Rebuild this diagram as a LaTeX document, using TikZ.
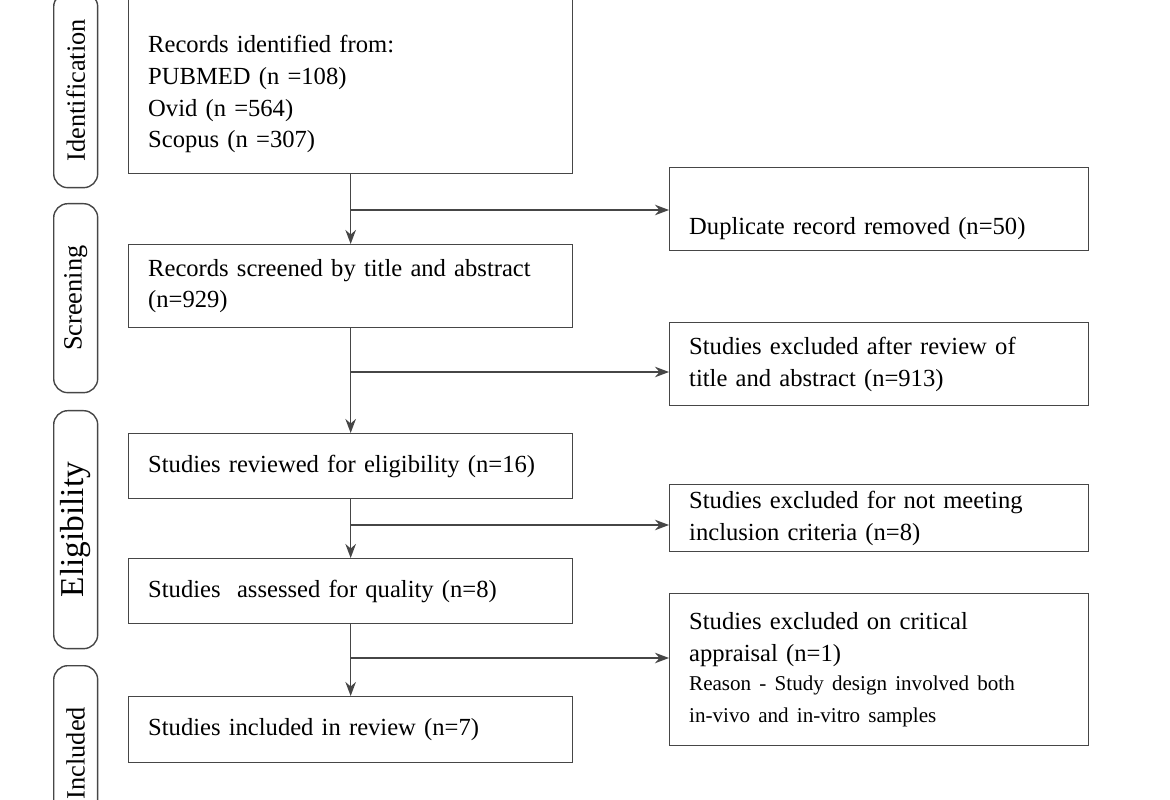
\documentclass[tikz,border=0pt]{standalone}
\usepackage{fontspec}
\setmainfont{Liberation Serif}
\usetikzlibrary{arrows.meta, positioning}
\definecolor{linegray}{RGB}{70,70,70}

\begin{document}
\begin{tikzpicture}[
        x=0.02cm, y=-0.02cm,
        mainbox/.style={draw=linegray, thick, minimum width=8.88cm, text width=8.1cm, align=left, anchor=north west, font=\fontsize{14}{18}\selectfont},
        sidebox/.style={draw=linegray, thick, minimum width=8.38cm, text width=7.6cm, align=left, anchor=north west, font=\fontsize{14}{18}\selectfont},
        phase/.style={draw=linegray, thick, rounded corners=8pt, minimum width=0.88cm, anchor=north west},
        phasetext/.style={rotate=90, font=\fontsize{15}{18}\selectfont},
        arrow/.style={-{Stealth[length=8pt]}, thick, linegray}
    ]
        \useasboundingbox (0,0) rectangle (1170,800);
        \clip (0,0) rectangle (1170,800);
        % phases
        \node[phase, minimum height=3.9cm] (ident) at (53,-8) {};
        \node[phasetext] at (ident.center) {Identification};
        \node[phase, minimum height=3.78cm] (screen) at (53,203) {};
        \node[phasetext] at (screen.center) {Screening};
        \node[phase, minimum height=4.76cm] (elig) at (53,410) {};
        \node[phasetext, font=\fontsize{19}{22}\selectfont] at (elig.center) {Eligibility};
        \node[phase, minimum height=3.2cm] (incl) at (53,665) {};
        \node[phasetext] at ([yshift=-0.15cm]incl.center) {Included};
        % main column
        \node[mainbox, minimum height=3.6cm] (records) at (128,-7) {\rule{0pt}{22pt}Records identified from:\\PUBMED (n =108)\\Ovid (n =564)\\Scopus (n =307)};
        \node[mainbox, minimum height=1.66cm] (screened) at (128,244) {Records screened by title and abstract\\(n=929)};
        \node[mainbox, minimum height=1.3cm] (reviewed) at (128,433) {Studies reviewed for eligibility (n=16)};
        \node[mainbox, minimum height=1.3cm] (assessed) at (128,558) {Studies\ \ assessed for quality (n=8)};
        \node[mainbox, minimum height=1.32cm] (included) at (128,696) {Studies included in review (n=7)};
        % side column
        \node[sidebox, minimum height=1.66cm] (dupl) at (669,167) {\rule{0pt}{32pt}Duplicate record removed (n=50)};
        \node[sidebox, minimum height=1.66cm] (excl1) at (669,322) {Studies excluded after review of\\title and abstract (n=913)};
        \node[sidebox, minimum height=1.34cm] (excl2) at (669,484) {Studies excluded for not meeting\\inclusion criteria (n=8)};
        \node[sidebox, minimum height=3.04cm] (excl3) at (669,593) {Studies excluded on critical\\appraisal (n=1)\\{\fontsize{12}{17}\selectfont Reason - Study design involved both\\in-vivo and in-vitro samples}};
        % arrows
        \draw[arrow] (records) -- (screened);
        \draw[arrow] (screened) -- (reviewed);
        \draw[arrow] (reviewed) -- (assessed);
        \draw[arrow] (assessed) -- (included);
        \coordinate (j1) at (350,210);
        \coordinate (j2) at (350,372);
        \coordinate (j3) at (350,525);
        \coordinate (j4) at (350,658);
        \draw[arrow] (j1) -- (j1 -| dupl.west);
        \draw[arrow] (j2) -- (j2 -| excl1.west);
        \draw[arrow] (j3) -- (j3 -| excl2.west);
        \draw[arrow] (j4) -- (j4 -| excl3.west);
    \end{tikzpicture}
\end{document}
